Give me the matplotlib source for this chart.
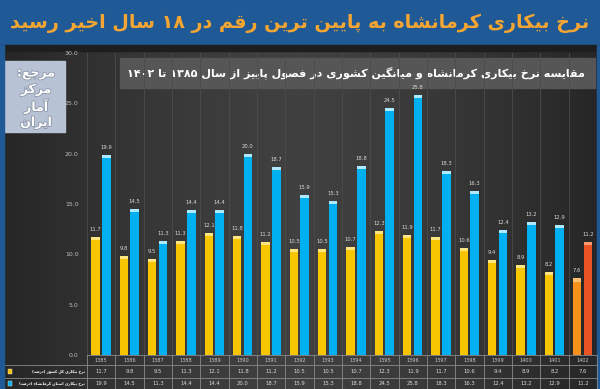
import re
import numpy as np
import matplotlib
matplotlib.use('Agg')
import matplotlib.pyplot as plt
from matplotlib.transforms import blended_transform_factory
from matplotlib.patches import Rectangle
import matplotlib.patheffects as pe

# --- data -------------------------------------------------------------
years = ['1385', '1386', '1387', '1388', '1389', '1390', '1391', '1392', '1393',
         '1394', '1395', '1396', '1397', '1398', '1399', '1400', '1401', '1402']
national = [11.7, 9.8, 9.5, 11.3, 12.1, 11.8, 11.2, 10.5, 10.5,
            10.7, 12.3, 11.9, 11.7, 10.6, 9.4, 8.9, 8.2, 7.6]
kermanshah = [19.9, 14.5, 11.3, 14.4, 14.4, 20.0, 18.7, 15.9, 15.3,
              18.8, 24.5, 25.8, 18.3, 16.3, 12.4, 13.2, 12.9, 11.2]

title = 'نرخ بیکاری کرمانشاه به پایین ترین رقم در ۱۸ سال اخیر رسید'
subtitle = 'مقایسه نرخ بیکاری کرمانشاه و میانگین کشوری در فصول پاییز از سال ۱۳۸۵ تا ۱۴۰۲'
source_lines = ['مرجع:', 'مرکز', 'آمار', 'ایران']
row_labels = ['نرخ بیکاری کل کشور (درصد)', 'نرخ بیکاری استان کرمانشاه (درصد)']

# --- minimal persian shaping (matplotlib has no complex text layout) --
DUAL = {'ب': 0xFE8F, 'ت': 0xFE95, 'ث': 0xFE99, 'ج': 0xFE9D, 'ح': 0xFEA1,
        'خ': 0xFEA5, 'س': 0xFEB1, 'ش': 0xFEB5, 'ص': 0xFEB9, 'ض': 0xFEBD,
        'ط': 0xFEC1, 'ظ': 0xFEC5, 'ع': 0xFEC9, 'غ': 0xFECD, 'ف': 0xFED1,
        'ق': 0xFED5, 'ل': 0xFEDD, 'م': 0xFEE1, 'ن': 0xFEE5, 'ه': 0xFEE9,
        'پ': 0xFB56, 'چ': 0xFB7A, 'ک': 0xFB8E, 'گ': 0xFB92, 'ی': 0xFBFC}
RIGHT = {'ا': 0xFE8D, 'آ': 0xFE81, 'د': 0xFEA9, 'ذ': 0xFEAB, 'ر': 0xFEAD,
         'ز': 0xFEAF, 'و': 0xFEED, 'ژ': 0xFB8A}


def fa(text):
    out = []
    for i, ch in enumerate(text):
        prev = text[i - 1] if i > 0 else ''
        nxt = text[i + 1] if i < len(text) - 1 else ''
        if ch in DUAL:
            p = prev in DUAL
            q = nxt in DUAL or nxt in RIGHT
            k = 3 if (p and q) else 1 if p else 2 if q else 0
            out.append(chr(DUAL[ch] + k))
        elif ch in RIGHT:
            out.append(chr(RIGHT[ch] + (1 if prev in DUAL else 0)))
        else:
            out.append(ch)
    s = ''.join(out)[::-1]
    s = re.sub(r'[0-9۰-۹.]+', lambda m: m.group(0)[::-1], s)
    return s.translate(str.maketrans('()', ')('))


# --- figure -----------------------------------------------------------
W, H = 600, 389
fig = plt.figure(figsize=(6, 3.89), dpi=100)
fig.patch.set_facecolor('#2e2e2e')

bg = fig.add_axes([0, 0, 1, 1])
bg.set_xlim(0, W)
bg.set_ylim(H, 0)
bg.axis('off')

# gradient background, lighter towards the middle
xs = np.linspace(-1, 1, 300)
grad = 1 - np.abs(xs) ** 1.5
bg.imshow(np.tile(grad, (10, 1)), extent=(0, W, H, 47), aspect='auto',
          cmap=matplotlib.colors.LinearSegmentedColormap.from_list('g', ['#262626', '#404040']),
          zorder=0)

# title band
bg.add_patch(Rectangle((0, 0), W, 45, color='#1f5996', zorder=1))
bg.add_patch(Rectangle((0, 45), W, 6, color='#1e1e1e', zorder=1))
bg.add_patch(Rectangle((0, 45), 4, H - 45, color='#1f5996', zorder=5))
bg.add_patch(Rectangle((W - 3, 45), 3, H - 45, color='#1f5996', zorder=5))
bg.text(W / 2, 23, fa(title), color='#f5a531', fontsize=13.8, fontweight='bold',
        ha='center', va='center', zorder=2)

# subtitle box
bg.add_patch(Rectangle((120, 58), 475, 30, color='#565656', zorder=1))
bg.text(585, 73, fa(subtitle), color='white', fontsize=8, fontweight='bold',
        ha='right', va='center', zorder=2)

# source box
bg.add_patch(Rectangle((3, 61), 62, 71, color='#b7c2d4', zorder=1))
for i, line in enumerate(source_lines):
    bg.text(36, 73 + i * 16.5, fa(line), color='white', fontsize=9, fontweight='bold',
            ha='center', va='center', zorder=2,
            path_effects=[pe.withStroke(linewidth=1.2, foreground='#8c96a8')])

# --- bars -------------------------------------------------------------
ax = fig.add_axes([87 / W, (H - 355) / H, 510 / W, 302 / H])
ax.set_facecolor('none')
x = np.arange(len(years))
ax.set_xlim(-0.5, len(years) - 0.5)
ax.set_ylim(0, 30)

c_nat = ['#f8c600'] * (len(years) - 1) + ['#f4921c']
c_ker = ['#00b0f0'] * (len(years) - 1) + ['#ea5424']
cap_nat = ['#ffe680'] * (len(years) - 1) + ['#ffc070']
cap_ker = ['#aeeaff'] * (len(years) - 1) + ['#ff9a70']

nat = np.array(national)
ker = np.array(kermanshah)
ax.bar(x - 0.2, nat, width=0.3, color=c_nat, zorder=3)
ax.bar(x + 0.18, ker, width=0.3, color=c_ker, zorder=3)
ax.bar(x - 0.2, 0.3, bottom=nat - 0.3, width=0.3, color=cap_nat, zorder=4)
ax.bar(x + 0.18, 0.3, bottom=ker - 0.3, width=0.3, color=cap_ker, zorder=4)

for xi, v in zip(x, nat):
    ax.text(xi - 0.2, v + 0.5, f'{v:.1f}', color='#d8d8d8', fontsize=3.8,
            ha='center', va='bottom')
for xi, v in zip(x, ker):
    ax.text(xi + 0.18, v + 0.5, f'{v:.1f}', color='#d8d8d8', fontsize=3.8,
            ha='center', va='bottom')

for b in np.arange(-0.5, len(years)):
    ax.axvline(b, color='#4c4c4c', lw=0.6, zorder=1)

ax.set_yticks(np.arange(0, 31, 5))
ax.set_yticklabels([f'{t:.1f}' for t in np.arange(0, 31, 5)])
ax.tick_params(axis='y', length=0, pad=6, labelsize=4.5, colors='#bdbdbd')
ax.set_xticks([])
for s in ax.spines.values():
    s.set_visible(False)

# --- data table under the axis ---------------------------------------
tr = blended_transform_factory(ax.transData, bg.transData)
line_c = '#8a8a8a'
rows_y = [355, 365, 378, 389]
for yy in rows_y:
    x0 = 87 if yy == 355 else 3
    bg.plot([x0, W - 3], [yy, yy], color=line_c, lw=0.6, zorder=3)
for b in np.arange(-0.5, len(years)):
    ax.plot([b, b], [355, 389], color=line_c, lw=0.6, transform=tr, clip_on=False)
bg.plot([3, 3], [365, 389], color=line_c, lw=0.6, zorder=3)

for xi, yr, v1, v2 in zip(x, years, national, kermanshah):
    ax.text(xi, 360.5, yr, color='#c8c8c8', fontsize=3.6, ha='center', va='center',
            transform=tr, clip_on=False)
    ax.text(xi, 371.5, f'{v1:.1f}', color='#d8d8d8', fontsize=3.8, ha='center',
            va='center', transform=tr, clip_on=False)
    ax.text(xi, 383.5, f'{v2:.1f}', color='#d8d8d8', fontsize=3.8, ha='center',
            va='center', transform=tr, clip_on=False)

for ry, lab, col in zip([371.5, 383.5], row_labels, ['#f8c600', '#00b0f0']):
    bg.add_patch(Rectangle((8, ry - 2.5), 4, 5, color=col, ec='#dddddd', lw=0.3, zorder=4))
    bg.text(85, ry, fa(lab), color='white', fontsize=2.7, fontweight='bold',
            ha='right', va='center', zorder=4)

fig.savefig('out.png', dpi=100, facecolor=fig.get_facecolor())
